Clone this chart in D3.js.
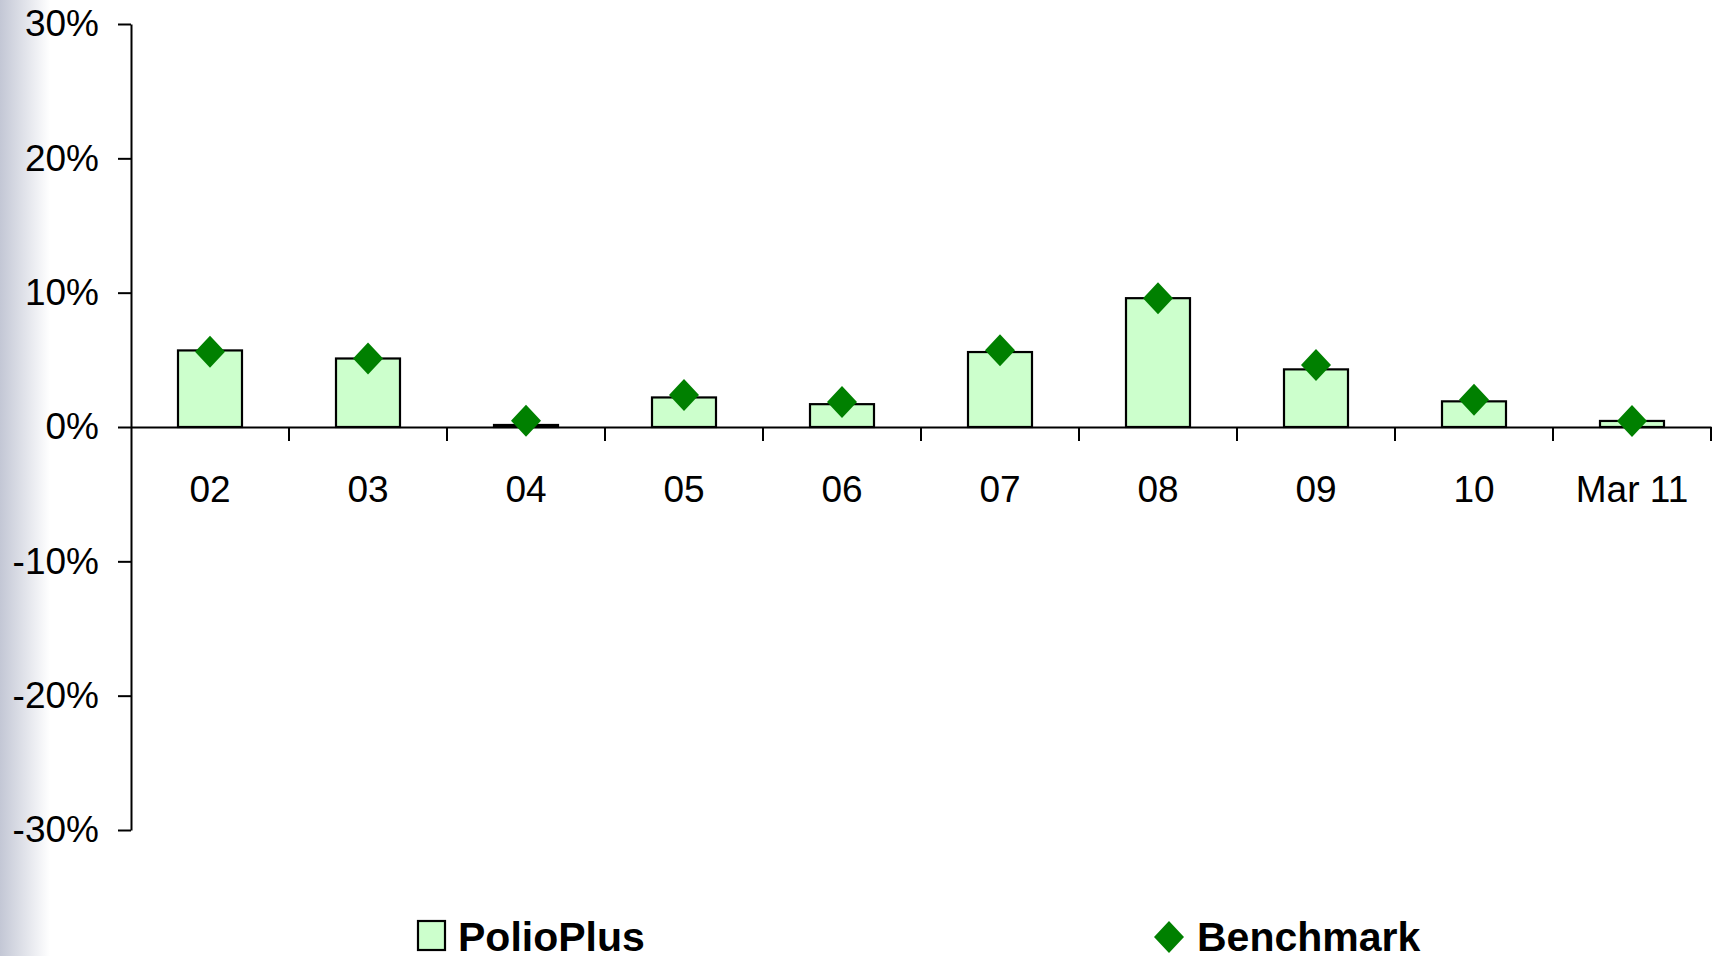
<!DOCTYPE html>
<html lang="en">
<head>
  <meta charset="UTF-8">
  <title>PolioPlus vs Benchmark</title>
  <script src="https://d3js.org/d3.v7.min.js"></script>
  <style>
    body { margin: 0; background: #fff; font-family: Arial, "Liberation Sans", sans-serif; }
    svg { display: block; }
  </style>
</head>
<body>
  <div id="chart"></div>
  <script>
    // data (returns, fraction)
    const categories = ["02", "03", "04", "05", "06", "07", "08", "09", "10", "Mar 11"];
    const polioPlus = [0.057, 0.051, 0.0015, 0.022, 0.017, 0.0558, 0.0959, 0.0429, 0.0191, 0.0045];
    const benchmark = [0.056, 0.051, 0.0047, 0.0238, 0.0186, 0.0572, 0.0959, 0.0461, 0.0203, 0.0045];
    const yTicks = [-0.3, -0.2, -0.1, 0, 0.1, 0.2, 0.3];
    const seriesNames = ["PolioPlus", "Benchmark"];

    const width = 1714, height = 956;
    const plotLeft = 131, plotRight = 1711, plotTop = 24, plotBottom = 830;

    const svg = d3.select("#chart").append("svg")
      .attr("width", width)
      .attr("height", height);

    // faint grey-blue strip down the left edge
    const grad = svg.append("defs").append("linearGradient")
      .attr("id", "edge").attr("x1", 0).attr("x2", 1);
    grad.append("stop").attr("offset", 0).attr("stop-color", "#c3c7d5");
    grad.append("stop").attr("offset", 1).attr("stop-color", "#ffffff");
    svg.append("rect").attr("width", width).attr("height", height).attr("fill", "#fff");
    svg.append("rect").attr("width", 50).attr("height", height).attr("fill", "url(#edge)");

    const x = d3.scaleBand()
      .domain(categories)
      .range([plotLeft, plotRight])
      .paddingInner(0.595)
      .paddingOuter(0.2975);
    const step = x.step();

    const y = d3.scaleLinear().domain([-0.3, 0.3]).range([plotBottom, plotTop]);

    // y axis
    const yAxis = svg.append("g")
      .attr("transform", `translate(${plotLeft},0)`)
      .call(d3.axisLeft(y)
        .tickValues(yTicks)
        .tickSize(13)
        .tickSizeOuter(0)
        .tickPadding(19)
        .tickFormat(d => Math.round(d * 100) + "%"));
    yAxis.selectAll("path, line").attr("stroke", "#000").attr("stroke-width", 2);
    yAxis.selectAll("text")
      .attr("fill", "#000")
      .style("font-size", "37px")
      .style("font-family", "Arial, 'Liberation Sans', sans-serif");

    // bars
    svg.selectAll("rect.bar")
      .data(polioPlus)
      .enter()
      .append("rect")
      .attr("class", "bar")
      .attr("x", (d, i) => x(categories[i]))
      .attr("width", x.bandwidth())
      .attr("y", d => y(Math.max(0, d)))
      .attr("height", d => Math.abs(y(d) - y(0)))
      .attr("fill", "#ccffcc")
      .attr("stroke", "#000")
      .attr("stroke-width", 2.2);

    // x axis at zero
    const xAxis = svg.append("g")
      .attr("transform", `translate(0,${y(0)})`)
      .call(d3.axisBottom(x).tickSize(0).tickSizeOuter(0));
    xAxis.select(".domain").attr("stroke", "#000").attr("stroke-width", 2);
    xAxis.selectAll("text")
      .attr("y", 75)
      .attr("dy", 0)
      .attr("fill", "#000")
      .style("font-size", "37px")
      .style("font-family", "Arial, 'Liberation Sans', sans-serif");

    // tick marks between categories
    xAxis.selectAll("line.sep")
      .data(categories)
      .enter()
      .append("line")
      .attr("class", "sep")
      .attr("x1", d => x(d) + x.bandwidth() / 2 + step / 2)
      .attr("x2", d => x(d) + x.bandwidth() / 2 + step / 2)
      .attr("y1", 0)
      .attr("y2", 14)
      .attr("stroke", "#000")
      .attr("stroke-width", 2);

    // benchmark diamonds
    const diamond = "M0,-16L15,0L0,16L-15,0Z";
    svg.selectAll("path.bench")
      .data(benchmark)
      .enter()
      .append("path")
      .attr("class", "bench")
      .attr("d", diamond)
      .attr("transform", (d, i) => `translate(${x(categories[i]) + x.bandwidth() / 2},${y(d)})`)
      .attr("fill", "#008000");

    // legend
    const legend = svg.append("g");
    legend.append("rect")
      .attr("x", 418).attr("y", 921)
      .attr("width", 27).attr("height", 29)
      .attr("fill", "#ccffcc")
      .attr("stroke", "#000")
      .attr("stroke-width", 2.2);
    legend.append("text")
      .attr("x", 458).attr("y", 951)
      .text(seriesNames[0])
      .style("font-size", "41px")
      .style("font-weight", "bold");
    legend.append("path")
      .attr("d", diamond)
      .attr("transform", "translate(1169,937)")
      .attr("fill", "#008000");
    legend.append("text")
      .attr("x", 1197).attr("y", 951)
      .text(seriesNames[1])
      .style("font-size", "41px")
      .style("font-weight", "bold");
  </script>
</body>
</html>
